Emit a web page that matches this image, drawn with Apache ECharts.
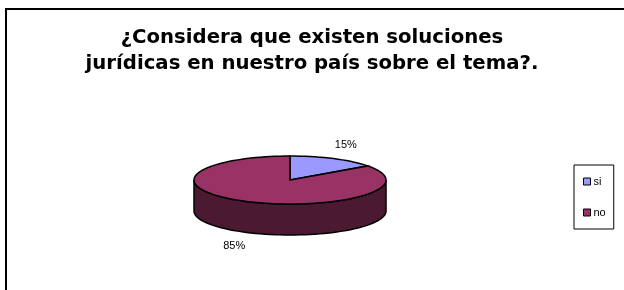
<!DOCTYPE html>
<html>
<head>
<meta charset="utf-8">
<script src="https://cdn.jsdelivr.net/npm/echarts@6/dist/echarts.min.js"></script>
<style>
  html, body { margin: 0; padding: 0; background: #fff; }
  #main { width: 624px; height: 290px; }
</style>
</head>
<body>
<div id="main"></div>
<script>
// datos
var categorias = ['si', 'no'];
var valores = [15, 85];
var colores = ['#9999FF', '#993366'];
var ladosColores = ['#4C4C80', '#4C1933'];

// geometria de la torta 3D
var cx = 290, cy = 180, rx = 96, ry = 24, prof = 31;

var total = valores.reduce(function (a, b) { return a + b; }, 0);

function punto(ang, dy) {
    var r = ang * Math.PI / 180;
    return [cx + rx * Math.sin(r), cy - ry * Math.cos(r) + (dy || 0)];
}

function arco(a0, a1, dy) {
    var pts = [];
    var n = Math.max(2, Math.ceil((a1 - a0) / 3));
    for (var i = 0; i <= n; i++) {
        pts.push(punto(a0 + (a1 - a0) * i / n, dy));
    }
    return pts;
}

var myChart = echarts.init(document.getElementById('main'));

var acumulado = 0;
var series = categorias.map(function (cat, idx) {
    var a0 = acumulado / total * 360;
    acumulado += valores[idx];
    var a1 = acumulado / total * 360;
    return {
        name: cat,
        type: 'custom',
        coordinateSystem: 'none',
        itemStyle: { color: colores[idx] },
        data: [valores[idx]],
        renderItem: function (params, api) {
            var children = [];
            // lado visible (mitad frontal: 90..270)
            var s0 = Math.max(a0, 90), s1 = Math.min(a1, 270);
            if (s1 > s0) {
                var sup = arco(s0, s1, 0);
                var inf = arco(s0, s1, prof).reverse();
                children.push({
                    type: 'polygon',
                    z2: 0,
                    shape: { points: sup.concat(inf) },
                    style: { fill: ladosColores[idx], stroke: '#000', lineWidth: 1.5 }
                });
            }
            // cara superior
            children.push({
                type: 'polygon',
                z2: 10,
                shape: { points: [[cx, cy]].concat(arco(a0, a1, 0)) },
                style: { fill: colores[idx], stroke: '#000', lineWidth: 1.5 }
            });
            // etiqueta
            var m = (a0 + a1) / 2 * Math.PI / 180;
            var lx = cx + rx * 1.28 * Math.sin(m);
            var ly = cy - ry * 1.65 * Math.cos(m) + (Math.cos(m) < 0 ? prof : 0);
            children.push({
                type: 'text',
                z2: 20,
                style: {
                    text: Math.round(api.value(0) / total * 100) + '%',
                    x: lx, y: ly,
                    align: 'center', verticalAlign: 'middle',
                    font: '11px Arial, "Liberation Sans", sans-serif',
                    fill: '#000'
                }
            });
            return { type: 'group', children: children };
        }
    };
});

var option = {
    animation: false,
    title: {
        text: '¿Considera que existen soluciones\njurídicas en nuestro país sobre el tema?.',
        left: 'center',
        top: 20,
        textStyle: {
            fontFamily: '"DejaVu Sans", sans-serif',
            fontSize: 19.7,
            fontWeight: 'bold',
            color: '#000',
            lineHeight: 26
        }
    },
    legend: {
        orient: 'vertical',
        left: 574,
        top: 165,
        padding: [11, 8, 11, 9],
        itemWidth: 7,
        itemHeight: 7,
        itemGap: 20,
        icon: 'rect',
        borderColor: '#000',
        borderWidth: 1,
        itemStyle: { borderColor: '#000', borderWidth: 1 },
        textStyle: { fontFamily: 'Arial, "Liberation Sans", sans-serif', fontSize: 11, color: '#000', padding: [0, 0, 0, -2] },
        data: categorias
    },
    graphic: [{
        type: 'rect',
        shape: { x: 6, y: 9, width: 640, height: 300 },
        style: { fill: 'none', stroke: '#000', lineWidth: 2 },
        z: -1
    }],
    series: series
};

myChart.setOption(option);
</script>
</body>
</html>
